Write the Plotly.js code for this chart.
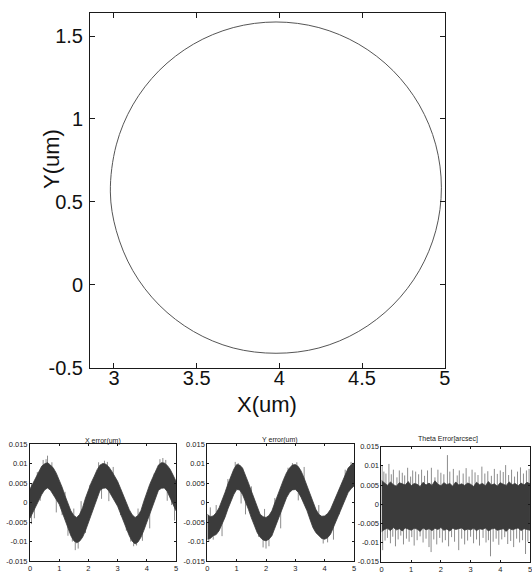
<!DOCTYPE html>
<html><head><meta charset="utf-8">
<script src="https://cdn.plot.ly/plotly-3.0.1.min.js"></script>
<style>html,body{margin:0;padding:0;background:#fff}#plot{width:532px;height:574px}</style>
</head><body><div id="plot"></div>
<script>
const circleX = [4.98,4.946,4.846,4.687,4.48,4.239,3.98,3.721,3.48,3.273,3.114,3.014,2.978,3.014,3.114,3.273,3.48,3.721,3.98,4.239,4.48,4.687,4.846,4.946,4.98];
const circleY = [0.585,0.844,1.085,1.292,1.451,1.551,1.585,1.551,1.451,1.292,1.085,0.844,0.56,0.326,0.085,-0.122,-0.281,-0.381,-0.413,-0.381,-0.281,-0.122,0.085,0.326,0.585];
const mainXTicks = [3,3.5,4,4.5,5];
const mainXText = ["3","3.5","4","4.5","5"];
const mainYTicks = [-0.5,0,0.5,1,1.5];
const mainYText = ["-0.5","0","0.5","1","1.5"];

// ---- error panels: time grid and band envelopes ----
const time = [0,0.1,0.2,0.3,0.4,0.5,0.6,0.7,0.8,0.9,1,1.1,1.2,1.3,1.4,1.5,1.6,1.7,1.8,1.9,2,2.1,2.2,2.3,2.4,2.5,2.6,2.7,2.8,2.9,3,3.1,3.2,3.3,3.4,3.5,3.6,3.7,3.8,3.9,4,4.1,4.2,4.3,4.4,4.5,4.6,4.7,4.8,4.9,5];
const xErrUpper = [0.0035,0.0050,0.0068,0.0082,0.0094,0.0100,0.0103,0.0097,0.0089,0.0076,0.0060,0.0040,0.0018,-0.0004,-0.0021,-0.0033,-0.0038,-0.0030,-0.0013,0.0012,0.0034,0.0052,0.0068,0.0085,0.0097,0.0101,0.0099,0.0092,0.0081,0.0069,0.0055,0.0037,0.0017,0.0000,-0.0018,-0.0031,-0.0038,-0.0033,-0.0020,0.0004,0.0026,0.0047,0.0064,0.0083,0.0097,0.0103,0.0102,0.0096,0.0086,0.0071,0.0055];
const xErrLower = [-0.0040,-0.0025,-0.0009,0.0008,0.0021,0.0033,0.0038,0.0032,0.0021,0.0009,-0.0004,-0.0024,-0.0043,-0.0066,-0.0085,-0.0098,-0.0103,-0.0099,-0.0089,-0.0072,-0.0051,-0.0030,-0.0009,0.0014,0.0032,0.0037,0.0038,0.0030,0.0017,0.0005,-0.0009,-0.0028,-0.0047,-0.0068,-0.0085,-0.0099,-0.0106,-0.0101,-0.0089,-0.0071,-0.0051,-0.0029,-0.0009,0.0013,0.0032,0.0037,0.0038,0.0029,0.0013,-0.0004,-0.0021];
const yErrUpper = [-0.0030,-0.0036,-0.0034,-0.0026,-0.0013,0.0005,0.0026,0.0048,0.0068,0.0086,0.0098,0.0097,0.0089,0.0072,0.0051,0.0030,0.0009,-0.0012,-0.0030,-0.0036,-0.0038,-0.0033,-0.0021,0.0000,0.0021,0.0041,0.0060,0.0077,0.0089,0.0097,0.0098,0.0093,0.0081,0.0063,0.0043,0.0021,0.0000,-0.0017,-0.0030,-0.0035,-0.0034,-0.0028,-0.0017,0.0001,0.0021,0.0038,0.0055,0.0073,0.0089,0.0097,0.0102];
const yErrLower = [-0.0094,-0.0092,-0.0085,-0.0082,-0.0072,-0.0056,-0.0038,-0.0016,0.0004,0.0021,0.0034,0.0033,0.0021,0.0003,-0.0017,-0.0039,-0.0060,-0.0077,-0.0089,-0.0096,-0.0098,-0.0094,-0.0085,-0.0066,-0.0043,-0.0024,-0.0004,0.0013,0.0026,0.0033,0.0034,0.0027,0.0013,-0.0004,-0.0021,-0.0043,-0.0064,-0.0077,-0.0085,-0.0092,-0.0094,-0.0090,-0.0081,-0.0063,-0.0043,-0.0026,-0.0009,0.0009,0.0026,0.0036,0.0043];
const thErrUpper = [0.0062,0.0055,0.0049,0.0058,0.0051,0.0047,0.0056,0.0053,0.0050,0.0059,0.0048,0.0054,0.0052,0.0046,0.0057,0.0050,0.0055,0.0049,0.0061,0.0052,0.0048,0.0056,0.0051,0.0054,0.0047,0.0058,0.0050,0.0053,0.0049,0.0055,0.0052,0.0046,0.0057,0.0051,0.0054,0.0048,0.0059,0.0050,0.0053,0.0047,0.0056,0.0052,0.0049,0.0058,0.0051,0.0054,0.0048,0.0055,0.0050,0.0057,0.0053];
const thErrLower = [-0.0072,-0.0066,-0.0063,-0.0069,-0.0061,-0.0067,-0.0064,-0.0070,-0.0062,-0.0066,-0.0068,-0.0063,-0.0065,-0.0071,-0.0062,-0.0067,-0.0064,-0.0069,-0.0063,-0.0066,-0.0061,-0.0068,-0.0065,-0.0070,-0.0063,-0.0066,-0.0064,-0.0062,-0.0068,-0.0065,-0.0067,-0.0063,-0.0069,-0.0064,-0.0066,-0.0062,-0.0070,-0.0065,-0.0063,-0.0068,-0.0066,-0.0064,-0.0071,-0.0063,-0.0067,-0.0065,-0.0062,-0.0069,-0.0064,-0.0066,-0.0068];

// ---- spikes poking out of the bands (time, tip value) ----
const xSpikeT = [0.05,0.05,0.15,0.25,0.35,0.45,0.55,0.6,0.75,0.9,1.1,1.2,1.3,1.45,1.5,1.55,1.65,1.75,1.9,2.05,2.35,2.45,2.55,2.65,2.7,2.85,3.1,3.3,3.45,3.55,3.65,3.7,3.85,4.1,4.25,4.45,4.55,4.65,4.7,4.85,4.95];
const xSpikeV = [0.0048,-0.0055,-0.0040,0.0079,0.0005,0.0110,0.0112,0.0121,0.0104,-0.0025,-0.0032,0.0028,-0.0085,-0.0100,-0.0015,-0.0122,-0.0118,0.0004,-0.0078,0.0046,0.0104,0.0010,0.0108,0.0105,0.0004,0.0092,-0.0032,-0.0072,-0.0100,-0.0112,-0.0110,-0.0015,-0.0098,-0.0066,0.0075,0.0112,0.0115,0.0110,0.0005,-0.0006,-0.0046];
const ySpikeT = [0.05,0.1,0.2,0.3,0.5,0.7,0.95,1.05,1.15,1.3,1.5,1.75,1.9,1.95,2.0,2.1,2.3,2.5,2.75,2.9,3.05,3.1,3.3,3.45,3.8,3.95,4.1,4.3,4.5,4.7,4.9];
const ySpikeV = [-0.0101,-0.0012,-0.0095,-0.0006,-0.0086,0.0061,0.0105,0.0102,-0.0002,-0.0030,0.0042,-0.0088,-0.0115,-0.0016,-0.0118,-0.0112,0.0012,-0.0066,0.0090,0.0102,0.0104,0.0006,0.0092,-0.0030,-0.0006,-0.0105,-0.0102,-0.0095,-0.0030,0.0085,0.0105];
const thSpikeT = [0.02,0.08,0.15,0.25,0.33,0.40,0.52,0.60,0.70,0.78,0.88,0.98,1.05,1.15,1.25,1.35,1.45,1.55,1.68,1.80,1.90,2.00,2.10,2.22,2.30,2.42,2.55,2.62,2.75,2.85,2.95,3.05,3.15,3.25,3.38,3.48,3.58,3.70,3.80,3.90,4.00,4.10,4.18,4.28,4.38,4.48,4.58,4.68,4.78,4.88,4.97,
  0.04,0.12,0.20,0.30,0.38,0.47,0.56,0.65,0.74,0.84,0.93,1.02,1.10,1.20,1.30,1.40,1.50,1.60,1.67,1.76,1.86,1.96,2.05,2.15,2.26,2.36,2.46,2.60,2.70,2.80,2.90,3.00,3.10,3.20,3.30,3.42,3.52,3.60,3.67,3.76,3.86,3.95,4.05,4.15,4.25,4.35,4.45,4.55,4.65,4.75,4.85,4.93];
const thSpikeV = [0.0100,0.0085,0.0080,0.0105,0.0078,0.0090,0.0070,0.0088,0.0082,0.0075,0.0095,0.0072,0.0088,0.0085,0.0078,0.0090,0.0074,0.0088,0.0095,0.0070,0.0090,0.0082,0.0078,0.0128,0.0085,0.0092,0.0075,0.0088,0.0080,0.0094,0.0072,0.0090,0.0083,0.0076,0.0098,0.0080,0.0086,0.0074,0.0092,0.0079,0.0088,0.0084,0.0102,0.0076,0.0090,0.0072,0.0085,0.0096,0.0080,0.0088,0.0092,
  -0.0120,-0.0095,-0.0088,-0.0102,-0.0085,-0.0110,-0.0092,-0.0082,-0.0105,-0.0090,-0.0098,-0.0086,-0.0108,-0.0094,-0.0084,-0.0100,-0.0090,-0.0112,-0.0125,-0.0092,-0.0105,-0.0088,-0.0100,-0.0094,-0.0110,-0.0086,-0.0098,-0.0120,-0.0090,-0.0105,-0.0095,-0.0085,-0.0102,-0.0092,-0.0108,-0.0088,-0.0100,-0.0094,-0.0136,-0.0098,-0.0090,-0.0106,-0.0092,-0.0086,-0.0104,-0.0096,-0.0112,-0.0090,-0.0100,-0.0094,-0.0130,-0.0098];
const errYTicks = [-0.015,-0.01,-0.005,0,0.005,0.01,0.015];
const errYText = ["-0.015","-0.01","-0.005","0","0.005","0.01","0.015"];
const errXTicks = [0,1,2,3,4,5];

const BAND = '#3b3b3b', SPIKE = '#8c8c8c', AXC = '#1a1a1a';
const FONT = 'Liberation Sans, Arial, sans-serif';

function spikeTrace(ts, vs, upper, lower, xa, ya) {
  const x = [], y = [];
  ts.forEach((tt, k) => {
    let best = 0;
    time.forEach((g, i) => { if (Math.abs(g - tt) < Math.abs(time[best] - tt)) best = i; });
    const base = (upper[best] + lower[best]) / 2;
    x.push(tt, tt, null); y.push(base, vs[k], null);
  });
  return {x, y, xaxis: xa, yaxis: ya, type: 'scatter', mode: 'lines', line: {color: SPIKE, width: 1}, hoverinfo: 'skip', showlegend: false};
}
function bandTraces(upper, lower, xa, ya) {
  return [
    {x: time, y: lower, xaxis: xa, yaxis: ya, type: 'scatter', mode: 'lines', line: {color: BAND, width: 0.8}, showlegend: false, hoverinfo: 'skip'},
    {x: time, y: upper, xaxis: xa, yaxis: ya, type: 'scatter', mode: 'lines', fill: 'tonexty', fillcolor: BAND, line: {color: BAND, width: 0.8}, showlegend: false, hoverinfo: 'skip'}
  ];
}

const data = [
  {x: circleX, y: circleY, type: 'scatter', mode: 'lines', line: {color: '#555555', width: 1, shape: 'spline', smoothing: 1}, showlegend: false, hoverinfo: 'skip'},
  spikeTrace(xSpikeT, xSpikeV, xErrUpper, xErrLower, 'x2', 'y2'),
  ...bandTraces(xErrUpper, xErrLower, 'x2', 'y2'),
  spikeTrace(ySpikeT, ySpikeV, yErrUpper, yErrLower, 'x3', 'y3'),
  ...bandTraces(yErrUpper, yErrLower, 'x3', 'y3'),
  spikeTrace(thSpikeT, thSpikeV, thErrUpper, thErrLower, 'x4', 'y4'),
  ...bandTraces(thErrUpper, thErrLower, 'x4', 'y4')
];

function mainAxis(extra) {
  return Object.assign({showline: true, linecolor: AXC, linewidth: 1, mirror: 'ticks', ticks: 'inside', ticklen: 5, tickcolor: AXC,
    showgrid: false, zeroline: false, tickfont: {family: FONT, size: 20, color: '#111'}, fixedrange: true}, extra);
}
function smallAxis(extra) {
  return Object.assign({showline: true, linecolor: AXC, linewidth: 1, mirror: 'ticks', ticks: 'inside', ticklen: 2, tickcolor: AXC,
    showgrid: false, zeroline: false, tickfont: {family: FONT, size: 7.5, color: '#222'}, fixedrange: true, ticklabeloverflow: 'allow'}, extra);
}

const layout = {
  width: 532, height: 574, margin: {l: 0, r: 0, t: 0, b: 0}, paper_bgcolor: '#fff', plot_bgcolor: '#fff',
  showlegend: false,
  xaxis: mainAxis({domain: [0.1692, 0.8359], range: [2.855, 5], tickvals: mainXTicks, ticktext: mainXText, anchor: 'y', ticklabelstandoff: -8}),
  yaxis: mainAxis({domain: [0.3594, 0.9779], range: [-0.5, 1.641], tickvals: mainYTicks, ticktext: mainYText, anchor: 'x', ticklabelstandoff: 2}),
  xaxis2: smallAxis({domain: [0.0564, 0.3308], range: [0, 5], tickvals: errXTicks, anchor: 'y2'}),
  yaxis2: smallAxis({domain: [0.0226, 0.2258], range: [-0.015, 0.015], tickvals: errYTicks, ticktext: errYText, anchor: 'x2'}),
  xaxis3: smallAxis({domain: [0.3898, 0.6654], range: [0, 5], tickvals: errXTicks, anchor: 'y3'}),
  yaxis3: smallAxis({domain: [0.0226, 0.2258], range: [-0.015, 0.015], tickvals: errYTicks, ticktext: errYText, anchor: 'x3'}),
  xaxis4: smallAxis({domain: [0.7171, 0.9962], range: [0, 5], tickvals: errXTicks, anchor: 'y4'}),
  yaxis4: smallAxis({domain: [0.0215, 0.2218], range: [-0.015, 0.015], tickvals: errYTicks, ticktext: errYText, anchor: 'x4'}),
  annotations: [
    {text: 'X(um)', xref: 'paper', yref: 'paper', x: 0.502, y: 0.296, showarrow: false, font: {family: FONT, size: 22, color: '#111'}, xanchor: 'center', yanchor: 'middle'},
    {text: 'Y(um)', xref: 'paper', yref: 'paper', x: 0.0977, y: 0.723, textangle: -90, showarrow: false, font: {family: FONT, size: 22, color: '#111'}, xanchor: 'center', yanchor: 'middle'},
    {text: 'X error(um)', xref: 'paper', yref: 'paper', x: 0.193, y: 0.232, showarrow: false, font: {family: FONT, size: 7, color: '#222'}, xanchor: 'center', yanchor: 'middle'},
    {text: 'Y error(um)', xref: 'paper', yref: 'paper', x: 0.526, y: 0.233, showarrow: false, font: {family: FONT, size: 7, color: '#222'}, xanchor: 'center', yanchor: 'middle'},
    {text: 'Theta Error[arcsec]', xref: 'paper', yref: 'paper', x: 0.843, y: 0.236, showarrow: false, font: {family: FONT, size: 7, color: '#222'}, xanchor: 'center', yanchor: 'middle'}
  ]
};

Plotly.newPlot('plot', data, layout, {staticPlot: true, displayModeBar: false});
</script>
</body></html>
